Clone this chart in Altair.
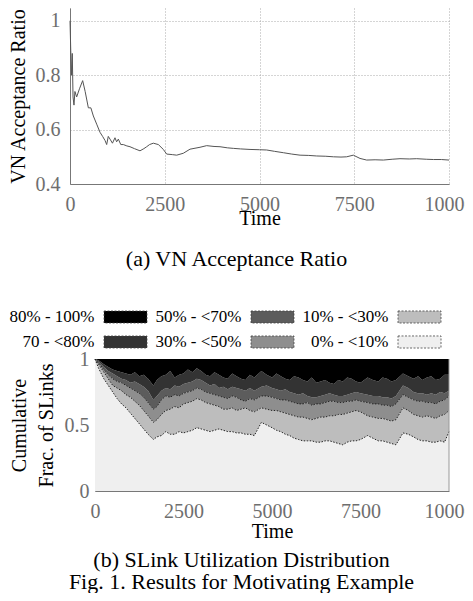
import altair as alt
import pandas as pd

FONT = "Liberation Serif"

# ---- (a) VN acceptance ratio ----
a_time = [0, 20, 40, 60, 80, 105, 130, 176, 250, 334, 400, 484, 550, 616, 704, 792, 860, 924, 968, 1010,
          1056, 1120, 1187, 1230, 1275, 1340, 1407, 1500, 1583, 1700, 1847, 1950, 2023, 2100, 2199, 2331, 2463, 2551, 2700, 2815,
          2990, 3166, 3430, 3606, 3800, 3958, 4150, 4310, 4500, 4750, 5000, 5190, 5400, 5630, 5850, 6070, 6300, 6510, 6750, 6950,
          7150, 7300, 7476, 7652, 7828, 8050, 8268, 8500, 8707, 8950, 9147, 9400, 9587, 9800, 10000]
a_ratio = [1.0, 0.89, 0.8, 0.88, 0.72, 0.69, 0.74, 0.72, 0.75, 0.78, 0.74, 0.68, 0.68, 0.65, 0.62, 0.59, 0.575, 0.56, 0.545, 0.575,
           0.565, 0.55, 0.57, 0.555, 0.565, 0.545, 0.545, 0.54, 0.537, 0.53, 0.522, 0.53, 0.537, 0.545, 0.55, 0.545, 0.527, 0.51, 0.508, 0.506,
           0.513, 0.528, 0.535, 0.541, 0.538, 0.537, 0.533, 0.531, 0.529, 0.527, 0.526, 0.525, 0.52, 0.515, 0.51, 0.506, 0.505, 0.503, 0.502, 0.5,
           0.499, 0.5, 0.506, 0.494, 0.488, 0.489, 0.488, 0.491, 0.493, 0.492, 0.493, 0.491, 0.49, 0.49, 0.488]

# ---- (b) SLink utilization distribution (cumulative boundaries) ----
b_time = [0, 100, 250, 375, 500, 625, 750, 875, 1000,
          1125, 1250, 1375, 1500, 1650, 1750, 1875, 2000, 2125, 2250, 2375, 2500,
          2625, 2750, 2875, 3000, 3125, 3250, 3375, 3500, 3625, 3750, 3875, 4000,
          4125, 4250, 4375, 4500, 4700, 4850, 5000,
          5125, 5250, 5375, 5500, 5625, 5750, 5875, 6000, 6125, 6250, 6375, 6500,
          6625, 6750, 6875, 7000, 7125, 7250, 7375, 7500, 7700, 7850, 8000,
          8125, 8250, 8375, 8500, 8700, 8850, 9000,
          9125, 9250, 9375, 9500, 9625, 9750, 9875, 10000]
cum_10 = [1.0, 0.93, 0.85, 0.80, 0.75, 0.70, 0.66, 0.63, 0.59,
          0.55, 0.51, 0.47, 0.43, 0.39, 0.41, 0.42, 0.45, 0.43, 0.43, 0.45, 0.44,
          0.45, 0.46, 0.48, 0.47, 0.46, 0.45, 0.46, 0.47, 0.46, 0.45, 0.45, 0.44,
          0.44, 0.43, 0.43, 0.42, 0.52, 0.50, 0.48,
          0.46, 0.45, 0.43, 0.42, 0.40, 0.39, 0.38, 0.38, 0.38, 0.37, 0.37, 0.38,
          0.38, 0.37, 0.36, 0.35, 0.37, 0.38, 0.38, 0.39, 0.42, 0.40, 0.38,
          0.38, 0.37, 0.36, 0.35, 0.44, 0.43, 0.41,
          0.39, 0.38, 0.38, 0.37, 0.37, 0.38, 0.37, 0.45]
cum_30 = [1.0, 0.96, 0.90, 0.85, 0.80, 0.78, 0.76, 0.73, 0.71,
          0.68, 0.65, 0.61, 0.57, 0.52, 0.54, 0.58, 0.61, 0.62, 0.64, 0.63, 0.66,
          0.67, 0.68, 0.70, 0.69, 0.67, 0.66, 0.65, 0.64, 0.62, 0.62, 0.63, 0.61,
          0.62, 0.63, 0.61, 0.60, 0.63, 0.62, 0.61,
          0.61, 0.60, 0.59, 0.58, 0.57, 0.56, 0.56, 0.55, 0.54, 0.55, 0.56, 0.56,
          0.57, 0.57, 0.58, 0.58, 0.59, 0.60, 0.61, 0.60, 0.57, 0.56, 0.55,
          0.55, 0.54, 0.53, 0.54, 0.63, 0.61, 0.58,
          0.57, 0.56, 0.57, 0.56, 0.55, 0.57, 0.58, 0.61]
cum_50 = [1.0, 0.97, 0.92, 0.88, 0.85, 0.83, 0.82, 0.80, 0.78,
          0.76, 0.74, 0.71, 0.67, 0.62, 0.64, 0.69, 0.72, 0.71, 0.73, 0.72, 0.74,
          0.75, 0.76, 0.78, 0.77, 0.75, 0.74, 0.73, 0.72, 0.71, 0.70, 0.72, 0.71,
          0.69, 0.68, 0.70, 0.69, 0.72, 0.72, 0.71,
          0.70, 0.69, 0.69, 0.68, 0.67, 0.66, 0.66, 0.67, 0.65, 0.66, 0.66, 0.67,
          0.68, 0.68, 0.67, 0.67, 0.68, 0.68, 0.69, 0.68, 0.67, 0.66, 0.66,
          0.65, 0.65, 0.64, 0.66, 0.73, 0.71, 0.69,
          0.68, 0.68, 0.67, 0.67, 0.66, 0.68, 0.69, 0.72]
cum_70 = [1.0, 0.98, 0.94, 0.91, 0.89, 0.87, 0.85, 0.84, 0.82,
          0.83, 0.81, 0.79, 0.76, 0.69, 0.72, 0.76, 0.78, 0.77, 0.80, 0.79, 0.81,
          0.82, 0.83, 0.85, 0.84, 0.82, 0.80, 0.81, 0.78, 0.79, 0.77, 0.79, 0.78,
          0.77, 0.76, 0.78, 0.76, 0.79, 0.80, 0.78,
          0.77, 0.76, 0.77, 0.75, 0.74, 0.73, 0.74, 0.72, 0.71, 0.71, 0.72, 0.73,
          0.74, 0.73, 0.72, 0.72, 0.73, 0.74, 0.75, 0.74, 0.73, 0.72, 0.72,
          0.71, 0.71, 0.70, 0.72, 0.80, 0.78, 0.75,
          0.74, 0.74, 0.73, 0.74, 0.73, 0.75, 0.74, 0.76]
cum_80 = [1.0, 0.99, 0.96, 0.94, 0.92, 0.91, 0.90, 0.89, 0.88,
          0.90, 0.87, 0.88, 0.85, 0.80, 0.84, 0.87, 0.88, 0.91, 0.86, 0.88, 0.89,
          0.92, 0.90, 0.93, 0.91, 0.88, 0.87, 0.90, 0.88, 0.86, 0.85, 0.89, 0.87,
          0.85, 0.84, 0.88, 0.86, 0.91, 0.88, 0.86,
          0.89, 0.87, 0.85, 0.84, 0.87, 0.86, 0.84, 0.83, 0.86, 0.82, 0.83, 0.84,
          0.82, 0.81, 0.84, 0.83, 0.86, 0.85, 0.83, 0.82, 0.86, 0.84, 0.83,
          0.86, 0.85, 0.83, 0.84, 0.89, 0.87, 0.85,
          0.87, 0.84, 0.86, 0.87, 0.84, 0.85, 0.88, 0.88]
cum_100 = [1.0] * len(b_time)
cum_0 = [0.0] * len(b_time)

layers = ["0% - <10%", "10% - <30%", "30% - <50%", "50% - <70%", "70 - <80%", "80% - 100%"]
layer_colors = ["#efefef", "#bdbdbd", "#8e8e8e", "#5c5c5c", "#333333", "#000000"]
legend_col = [2, 2, 1, 1, 0, 0]
legend_row = [1, 0, 1, 0, 1, 0]

x_ticks = [0, 2500, 5000, 7500, 10000]
a_y_ticks = [0.4, 0.6, 0.8, 1.0]
b_y_ticks = [0, 0.25, 0.5, 0.75, 1]

bounds = [cum_0, cum_10, cum_30, cum_50, cum_70, cum_80, cum_100]

rows = []
for i, name in enumerate(layers):
    for j, t in enumerate(b_time):
        rows.append({"time": t, "layer": name, "lo": bounds[i][j], "hi": bounds[i + 1][j]})
area_df = pd.DataFrame(rows)

line_rows = []
for k, name in enumerate(["b10", "b30", "b50"]):
    for j, t in enumerate(b_time):
        line_rows.append({"time": t, "bound": name, "v": bounds[k + 1][j]})
line_df = pd.DataFrame(line_rows)

legend_df = pd.DataFrame({"layer": layers, "col": legend_col, "row": legend_row})

color_scale = alt.Scale(domain=layers, range=layer_colors)

axis_common = dict(
    labelFont=FONT, labelFontSize=20, labelColor="#6e6e6e",
    titleFont=FONT, titleFontSize=20, titleFontWeight="normal", titleColor="#000000",
    domainColor="#777777", domainWidth=1, ticks=False, labelFlush=False,
)

# ---- chart a ----
a_df = pd.DataFrame({"time": a_time, "ratio": a_ratio})
chart_a = alt.Chart(a_df).mark_line(color="#555555", strokeWidth=1).encode(
    x=alt.X("time:Q", title="Time", scale=alt.Scale(domain=[0, 10000], nice=False),
            axis=alt.Axis(values=x_ticks, format="d", grid=True, gridDash=[1, 2], gridColor="#aaaaaa",
                          labelPadding=10, titlePadding=-6, **axis_common)),
    y=alt.Y("ratio:Q", title="VN Acceptance Ratio", scale=alt.Scale(domain=[0.4, 1.047], nice=False, zero=False),
            axis=alt.Axis(values=a_y_ticks, format="~g", grid=True, gridDash=[1, 2], gridColor="#aaaaaa",
                          labelPadding=10, titlePadding=7, **axis_common)),
).properties(
    width=379, height=176,
    view=alt.ViewBackground(stroke=None),
    title=alt.TitleParams(text="(a) VN Acceptance Ratio", orient="bottom", font=FONT, fontSize=22,
                          fontWeight="normal", color="#000000", dx=-23, offset=21),
)

# ---- chart b ----
xb_scale = alt.Scale(domain=[0, 10000], nice=False, range=[25, 379])
yb_scale = alt.Scale(domain=[0, 1], nice=False)

areas = alt.Chart(area_df).mark_area(interpolate="linear", strokeWidth=0).encode(
    x=alt.X("time:Q", title="Time", scale=xb_scale,
            axis=alt.Axis(values=x_ticks, format="d", grid=False, labelPadding=10, titlePadding=0, **axis_common)),
    y=alt.Y("hi:Q", title=["Cumulative", "Frac. of SLinks"], scale=yb_scale,
            axis=alt.Axis(values=b_y_ticks, format="~g", grid=False, labelPadding=6, titlePadding=8,
                          titleLineHeight=27, offset=-25, **axis_common)),
    y2="lo:Q",
    color=alt.Color("layer:N", scale=color_scale, legend=None),
    order=alt.Order("layer:N"),
)

dots = alt.Chart(line_df).mark_line(color="#222222", strokeWidth=1, strokeDash=[1.5, 1.5]).encode(
    x="time:Q",
    y="v:Q",
    detail="bound:N",
)

right_edge = alt.Chart(legend_df.head(1)).mark_rule(color="#999999", strokeWidth=1).encode(
    x=alt.datum(10000),
    y=alt.datum(0),
    y2=alt.datum(1),
)

plot_b = alt.layer(areas, dots, right_edge)

leg_x = alt.X("col:Q", scale=alt.Scale(domain=[0, 2], range=[55.5, 349.5]), axis=None)
leg_y = alt.Y("row:Q", scale=alt.Scale(domain=[0, 1], range=[-42, -17]), axis=None)

leg_sw = alt.Chart(legend_df).mark_point(
    shape="M-1,-0.28H1V0.28H-1Z", size=1849, filled=True, opacity=1,
    stroke="#444444", strokeWidth=0.8, strokeDash=[2, 1.5],
).encode(
    x=leg_x, y=leg_y,
    fill=alt.Fill("layer:N", scale=color_scale, legend=None),
)
leg_tx = alt.Chart(legend_df).mark_text(align="right", baseline="middle", dx=-31, font=FONT, fontSize=17,
                                        color="#000000").encode(
    x=leg_x, y=leg_y,
    text="layer:N",
)
legend_layer = alt.layer(leg_sw, leg_tx)

chart_b = alt.layer(plot_b, legend_layer).resolve_scale(x="independent", y="independent").properties(
    width=379, height=132,
    view=alt.ViewBackground(stroke=None),
    title=alt.TitleParams(text=["(b) SLink Utilization Distribution", "Fig. 1.  Results for Motivating Example"],
                          orient="bottom", font=FONT, fontSize=22, fontWeight="normal", color="#000000",
                          dx=-18, offset=9, lineHeight=22),
)

chart = alt.vconcat(chart_a, chart_b, spacing=38).properties(
    padding={"left": 0, "top": 0, "right": -9, "bottom": 0}
).configure(background="#ffffff")

chart.save("out.html", embed_options={"renderer": "svg", "actions": False})
